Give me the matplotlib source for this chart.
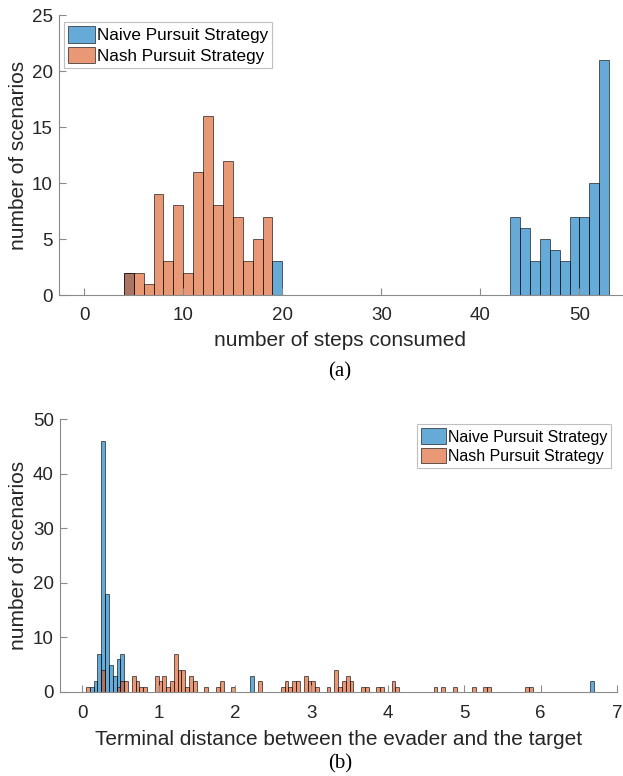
"""Histograms of pursuit outcomes: steps consumed (a) and terminal distance (b)."""

import matplotlib

matplotlib.use("Agg")
import matplotlib.pyplot as plt

plt.rcParams["font.family"] = ["Liberation Sans", "DejaVu Sans"]

# (a) number of steps consumed, bin width 1 (left edges of non-empty bins)
STEP_BIN = 1
naive_step_bins = [4, 19, 43, 44, 45, 46, 47, 48, 49, 50, 51, 52]
naive_step_counts = [2, 3, 7, 6, 3, 5, 4, 3, 7, 7, 10, 21]
nash_step_bins = [4, 5, 6, 7, 8, 9, 10, 11, 12, 13, 14, 15, 16, 17, 18]
nash_step_counts = [2, 2, 1, 9, 3, 8, 2, 11, 16, 8, 12, 7, 3, 5, 7]

# (b) terminal distance between evader and target, bin width 0.05
DIST_BIN = 0.05
naive_dist_bins = [0.10, 0.15, 0.20, 0.25, 0.30, 0.35, 0.40, 0.45, 0.50, 2.20, 6.65]
naive_dist_counts = [1, 2, 7, 46, 18, 5, 3, 6, 7, 3, 2]
nash_dist_bins = [
    0.05, 0.25, 0.45, 0.50, 0.55, 0.65, 0.70, 0.75, 0.80, 0.95,
    1.00, 1.05, 1.10, 1.15, 1.20, 1.25, 1.30, 1.35, 1.40, 1.45,
    1.60, 1.75, 1.80, 1.95, 2.30, 2.60, 2.65, 2.70, 2.75, 2.80,
    2.90, 2.95, 3.00, 3.05, 3.20, 3.30, 3.35, 3.40, 3.45, 3.50,
    3.65, 3.70, 3.85, 3.90, 4.05, 4.10, 4.60, 4.70, 4.85, 5.10,
    5.25, 5.30, 5.80, 5.85,
]
nash_dist_counts = [
    1, 4, 1, 2, 2, 3, 2, 1, 1, 3,
    2, 3, 1, 2, 7, 4, 4, 1, 3, 2,
    1, 1, 2, 1, 2, 1, 2, 1, 2, 2,
    3, 2, 2, 1, 1, 4, 1, 2, 3, 2,
    1, 1, 1, 1, 2, 1, 1, 1, 1, 1,
    1, 1, 1, 1,
]

LABELS = ["Naive Pursuit Strategy", "Nash Pursuit Strategy"]
BLUE = "#0072BD"
ORANGE = "#D95319"
AXIS_GRAY = "#8a8a8a"
TEXT = "#262626"


def style_axes(ax):
    for side in ("top", "right"):
        ax.spines[side].set_visible(False)
    for side in ("left", "bottom"):
        ax.spines[side].set_color(AXIS_GRAY)
        ax.spines[side].set_linewidth(0.8)
    ax.tick_params(direction="in", length=5, width=0.8, color=AXIS_GRAY,
                   labelcolor=TEXT, labelsize=13.5)
    ax.tick_params(axis="x", pad=9)
    ax.tick_params(axis="y", pad=4.5)


def draw(ax, bins, counts, width, color, label):
    ax.bar(bins, counts, width=width, align="edge", color=color, alpha=0.6,
           edgecolor="black", linewidth=0.7, label=label)


def add_legend(ax, loc, anchor, size):
    leg = ax.legend(loc=loc, bbox_to_anchor=anchor, fontsize=size,
                    frameon=True, fancybox=False, edgecolor="#b0b0b0",
                    handlelength=1.6, handleheight=1.1, handletextpad=0.1,
                    borderpad=0.25, labelspacing=0.2, borderaxespad=0)
    leg.get_frame().set_linewidth(0.8)
    return leg


fig = plt.figure(figsize=(6.23, 7.76), dpi=100)
serif = ["Liberation Serif", "DejaVu Serif"]

# ---- (a) ----
ax1 = fig.add_axes([59 / 623, 1 - 295 / 776, 563 / 623, 280 / 776])
draw(ax1, naive_step_bins, naive_step_counts, STEP_BIN, BLUE, LABELS[0])
draw(ax1, nash_step_bins, nash_step_counts, STEP_BIN, ORANGE, LABELS[1])
ax1.set_xlim(-2.55, 54.3)
ax1.set_ylim(0, 25)
ax1.set_xticks(range(0, 51, 10))
ax1.set_yticks(range(0, 26, 5))
style_axes(ax1)
ax1.set_xlabel("number of steps consumed", fontsize=15, color=TEXT)
ax1.set_ylabel("number of scenarios", fontsize=15, color=TEXT)
ax1.xaxis.set_label_coords(0.5, -0.128)
ax1.yaxis.set_label_coords(-0.055, 0.5)
add_legend(ax1, "upper left", (0.008, 0.975), 12.3)
fig.text(340 / 623, 1 - 372 / 776, "(a)", ha="center", va="center",
         fontsize=15, family=serif)

# ---- (b) ----
ax2 = fig.add_axes([60 / 623, 1 - 692 / 776, 557 / 623, 273 / 776])
draw(ax2, naive_dist_bins, naive_dist_counts, DIST_BIN, BLUE, LABELS[0])
draw(ax2, nash_dist_bins, nash_dist_counts, DIST_BIN, ORANGE, LABELS[1])
ax2.set_xlim(-0.29, 7.0)
ax2.set_ylim(0, 50)
ax2.set_xticks(range(0, 8))
ax2.set_yticks(range(0, 51, 10))
style_axes(ax2)
ax2.set_xlabel("Terminal distance between the evader and the target",
               fontsize=15, color=TEXT)
ax2.set_ylabel("number of scenarios", fontsize=15, color=TEXT)
ax2.xaxis.set_label_coords(0.5, -0.138)
ax2.yaxis.set_label_coords(-0.057, 0.5)
add_legend(ax2, "upper right", (0.99, 0.98), 11.5)
fig.text(340 / 623, 1 - 764 / 776, "(b)", ha="center", va="center",
         fontsize=15, family=serif)

fig.savefig("out.png", dpi=100)
plt.close(fig)
